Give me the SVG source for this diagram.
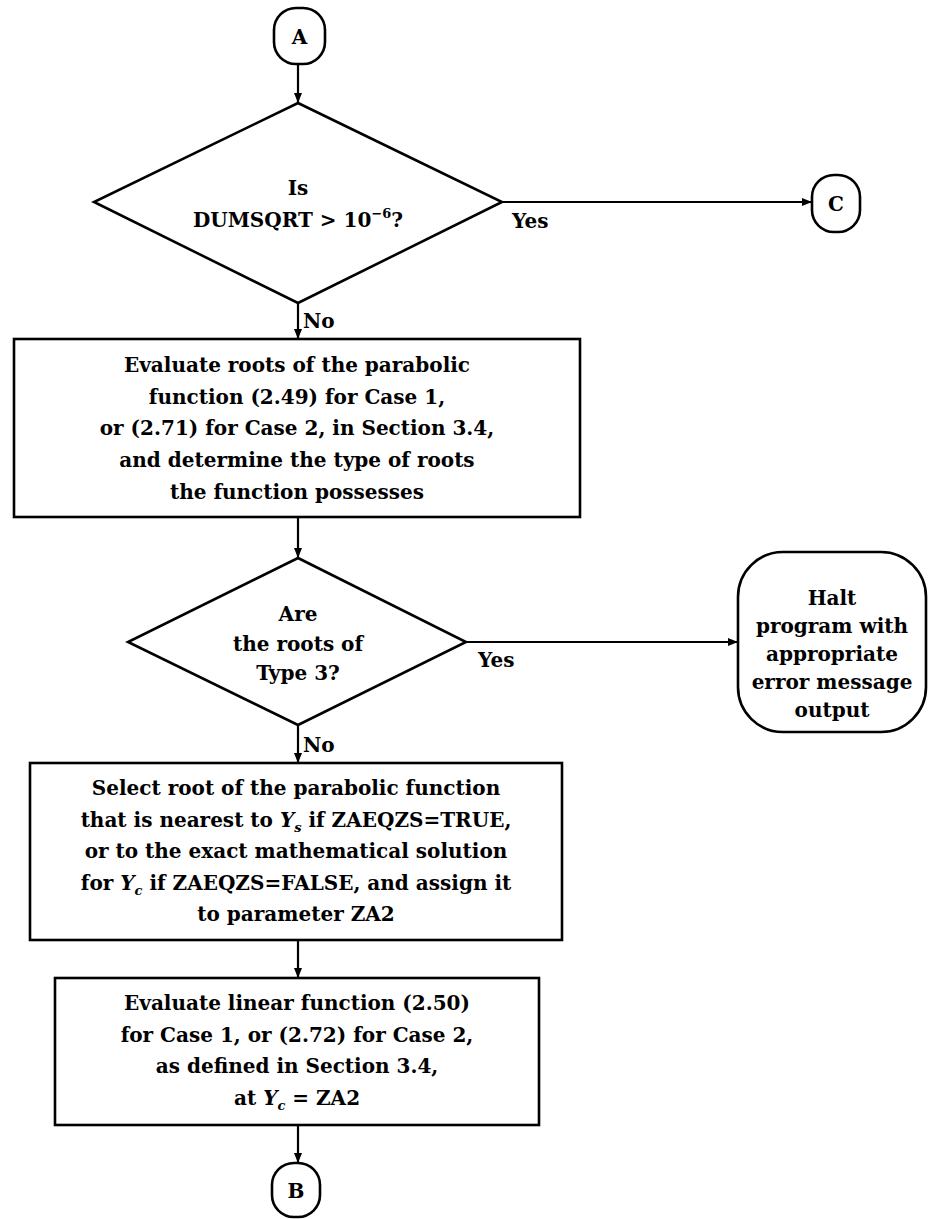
<svg xmlns="http://www.w3.org/2000/svg" width="928" height="1219" viewBox="0 0 928 1219">
<style>
  .bg{fill:#fff}
  .shape{fill:#fff;stroke:#000;stroke-width:2.6}
  .conn{stroke:#000;stroke-width:2.2;fill:none}
  text{font-family:"DejaVu Serif","Liberation Serif",serif;font-weight:bold;font-size:20px;fill:#000}
  .c{text-anchor:middle}
  .it{font-style:italic}
  .sm{font-size:13px}
</style>
<defs>
  <marker id="arr" markerUnits="userSpaceOnUse" markerWidth="10" markerHeight="8" refX="10" refY="4" orient="auto">
    <path d="M0,0 L10,4 L0,8 z" fill="#000"/>
  </marker>
</defs>
<rect class="bg" x="0" y="0" width="928" height="1219"/>

<g id="connectors">
  <line class="conn" x1="298" y1="64" x2="298" y2="103" marker-end="url(#arr)"/>
  <line class="conn" x1="502" y1="202" x2="812" y2="202" marker-end="url(#arr)"/>
  <line class="conn" x1="298" y1="303" x2="298" y2="339" marker-end="url(#arr)"/>
  <line class="conn" x1="298" y1="517" x2="298" y2="558" marker-end="url(#arr)"/>
  <line class="conn" x1="466" y1="642" x2="738" y2="642" marker-end="url(#arr)"/>
  <line class="conn" x1="298" y1="725" x2="298" y2="763" marker-end="url(#arr)"/>
  <line class="conn" x1="298" y1="940" x2="298" y2="978" marker-end="url(#arr)"/>
  <line class="conn" x1="298" y1="1125" x2="298" y2="1163" marker-end="url(#arr)"/>
  <text x="512" y="228">Yes</text>
  <text x="303" y="328">No</text>
  <text x="478" y="667">Yes</text>
  <text x="303" y="752">No</text>
</g>

<g id="nodeA">
  <rect class="shape" x="274" y="8" width="51" height="56" rx="22" ry="22"/>
  <text class="c" x="299.5" y="44">A</text>
</g>

<g id="decision1">
  <polygon class="shape" points="298,103 502,202 298,303 94,202"/>
  <text class="c" x="298" y="195">Is</text>
  <text class="c" x="298" y="227">DUMSQRT &gt; 10<tspan class="sm" dy="-9">−6</tspan><tspan dy="9">?</tspan></text>
</g>

<g id="nodeC">
  <rect class="shape" x="812" y="175" width="48" height="57" rx="22" ry="22"/>
  <text class="c" x="836" y="211">C</text>
</g>

<g id="process1">
  <rect class="shape" x="14" y="339" width="566" height="178"/>
  <text class="c" x="297" y="372">Evaluate roots of the parabolic</text>
  <text class="c" x="297" y="404">function (2.49) for Case 1,</text>
  <text class="c" x="297" y="435">or (2.71) for Case 2, in Section 3.4,</text>
  <text class="c" x="297" y="467">and determine the type of roots</text>
  <text class="c" x="297" y="499">the function possesses</text>
</g>

<g id="decision2">
  <polygon class="shape" points="298,558 466,642 298,725 128,642"/>
  <text class="c" x="298" y="621">Are</text>
  <text class="c" x="298" y="651">the roots of</text>
  <text class="c" x="298" y="680">Type 3?</text>
</g>

<g id="halt">
  <rect class="shape" x="738" y="552" width="188" height="180" rx="45" ry="45"/>
  <text class="c" x="832" y="605">Halt</text>
  <text class="c" x="832" y="633">program with</text>
  <text class="c" x="832" y="661">appropriate</text>
  <text class="c" x="832" y="689">error message</text>
  <text class="c" x="832" y="717">output</text>
</g>

<g id="process2">
  <rect class="shape" x="30" y="763" width="532" height="177"/>
  <text class="c" x="296" y="795">Select root of the parabolic function</text>
  <text class="c" x="296" y="827">that is nearest to <tspan class="it">Y</tspan><tspan class="it sm" dy="5">s</tspan><tspan dy="-5"> if ZAEQZS=TRUE,</tspan></text>
  <text class="c" x="296" y="858">or to the exact mathematical solution</text>
  <text class="c" x="296" y="890">for <tspan class="it">Y</tspan><tspan class="it sm" dy="5">c</tspan><tspan dy="-5"> if ZAEQZS=FALSE, and assign it</tspan></text>
  <text class="c" x="296" y="921">to parameter ZA2</text>
</g>

<g id="process3">
  <rect class="shape" x="55" y="978" width="484" height="147"/>
  <text class="c" x="297" y="1010">Evaluate linear function (2.50)</text>
  <text class="c" x="297" y="1042">for Case 1, or (2.72) for Case 2,</text>
  <text class="c" x="297" y="1073">as defined in Section 3.4,</text>
  <text class="c" x="297" y="1105">at <tspan class="it">Y</tspan><tspan class="it sm" dy="5">c</tspan><tspan dy="-5"> = ZA2</tspan></text>
</g>

<g id="nodeB">
  <rect class="shape" x="272" y="1163" width="48" height="54" rx="22" ry="22"/>
  <text class="c" x="296" y="1198">B</text>
</g>
</svg>
